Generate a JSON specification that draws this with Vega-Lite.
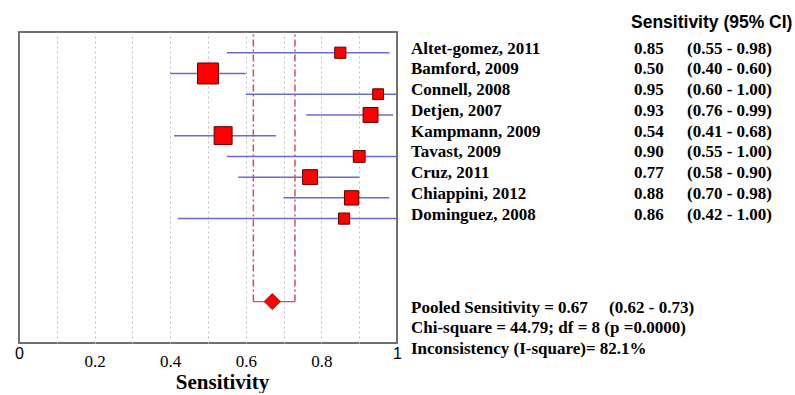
{
  "$schema": "https://vega.github.io/schema/vega-lite/v6.json",
  "background": "white",
  "padding": {"left": 13, "top": 14, "right": 0, "bottom": 0},
  "config": {"view": {"stroke": null}},
  "datasets": {
    "studies": [
      {"row": 0, "study": "Altet-gomez, 2011", "sens": 0.85, "lo": 0.55, "hi": 0.98, "weight": 6.5, "ci": "(0.55 - 0.98)"},
      {"row": 1, "study": "Bamford, 2009", "sens": 0.50, "lo": 0.40, "hi": 0.60, "weight": 22.9, "ci": "(0.40 - 0.60)"},
      {"row": 2, "study": "Connell, 2008", "sens": 0.95, "lo": 0.60, "hi": 1.00, "weight": 6.1, "ci": "(0.60 - 1.00)"},
      {"row": 3, "study": "Detjen, 2007", "sens": 0.93, "lo": 0.76, "hi": 0.99, "weight": 11.6, "ci": "(0.76 - 0.99)"},
      {"row": 4, "study": "Kampmann, 2009", "sens": 0.54, "lo": 0.41, "hi": 0.68, "weight": 16.8, "ci": "(0.41 - 0.68)"},
      {"row": 5, "study": "Tavast, 2009", "sens": 0.90, "lo": 0.55, "hi": 1.00, "weight": 7.3, "ci": "(0.55 - 1.00)"},
      {"row": 6, "study": "Cruz, 2011", "sens": 0.77, "lo": 0.58, "hi": 0.90, "weight": 11.6, "ci": "(0.58 - 0.90)"},
      {"row": 7, "study": "Chiappini, 2012", "sens": 0.88, "lo": 0.70, "hi": 0.98, "weight": 10.7, "ci": "\u00a0(0.70 - 0.98)"},
      {"row": 8, "study": "Dominguez, 2008", "sens": 0.86, "lo": 0.42, "hi": 1.00, "weight": 6.5, "ci": "(0.42 - 1.00)"}
    ],
    "pooled": [{"row": 12, "est": 0.67, "lo": 0.62, "hi": 0.73}],
    "summary": [
      {"row": 12, "label": "Pooled Sensitivity = 0.67\u00a0\u00a0\u00a0\u00a0\u00a0(0.62 - 0.73)"},
      {"row": 13, "label": "Chi-square = 44.79; df = 8 (p =0.0000)"},
      {"row": 14, "label": "Inconsistency (I-square)= 82.1%"}
    ],
    "header": [{"label": "Sensitivity (95% CI)"}]
  },
  "bounds": "flush",
  "spacing": 15,
  "hconcat": [
    {
      "width": 378,
      "height": 311,
      "view": {"stroke": "#707070", "strokeWidth": 2},
      "layer": [
        {
          "data": {"name": "studies"},
          "mark": {"type": "rule", "color": "#6a6ad0", "strokeWidth": 1.5},
          "encoding": {
            "x": {
              "field": "lo", "type": "quantitative", "title": "Sensitivity",
              "scale": {"domain": [0, 1], "nice": false, "zero": false},
              "axis": {
                "values": [0, 0.1, 0.2, 0.3, 0.4, 0.5, 0.6, 0.7, 0.8, 0.9, 1],
                "tickCount": 20,
                "labelExpr": "datum.value == 0 ? '0' : (datum.value > 0.99 ? '1' : (round(datum.value * 10) % 2 == 0 ? format(datum.value, '.1f') : ''))",
                "grid": true,
                "gridColor": "#bdbdbd",
                "gridDash": [2, 3],
                "gridWidth": 1,
                "gridOpacity": {"condition": {"test": "datum.value == 0 || datum.value > 0.99", "value": 0}, "value": 1},
                "ticks": false,
                "tickSize": 0,
                "domain": false,
                "labelFont": {"condition": {"test": "datum.value == 0 || datum.value > 0.99", "value": "Liberation Sans"}, "value": "Liberation Serif"},
                "labelFontSize": {"condition": {"test": "datum.value == 0 || datum.value > 0.99", "value": 16}, "value": 17},
                "labelPadding": {"condition": {"test": "datum.value == 0 || datum.value > 0.99", "value": 2.6}, "value": 10},
                "labelBaseline": "top",
                "labelColor": "black",
                "labelFlush": false,
                "labelOverlap": false,
                "titleFont": "Liberation Serif",
                "titleFontSize": 21,
                "titleFontWeight": "bold",
                "titleColor": "black",
                "titlePadding": 2,
                "titleX": 203
              }
            },
            "x2": {"field": "hi"},
            "y": {"field": "row", "type": "quantitative", "scale": {"domain": [-1, 14], "reverse": true, "nice": false, "zero": false}, "axis": null}
          }
        },
        {
          "data": {"name": "pooled"},
          "mark": {"type": "rule", "color": "#c8506a", "strokeWidth": 1.5, "strokeDash": [7, 3, 2, 3]},
          "encoding": {
            "x": {"field": "lo", "type": "quantitative", "title": "Sensitivity"},
            "y": {"field": "row", "type": "quantitative"},
            "y2": {"datum": -1}
          }
        },
        {
          "data": {"name": "pooled"},
          "mark": {"type": "rule", "color": "#c8506a", "strokeWidth": 1.5, "strokeDash": [7, 3, 2, 3]},
          "encoding": {
            "x": {"field": "hi", "type": "quantitative", "title": "Sensitivity"},
            "y": {"field": "row", "type": "quantitative"},
            "y2": {"datum": -1}
          }
        },
        {
          "data": {"name": "pooled"},
          "mark": {"type": "rule", "color": "#c8506a", "strokeWidth": 1.2},
          "encoding": {
            "x": {"field": "lo", "type": "quantitative", "title": "Sensitivity"},
            "x2": {"field": "hi"},
            "y": {"field": "row", "type": "quantitative"}
          }
        },
        {
          "data": {"name": "studies"},
          "mark": {"type": "square", "filled": true, "color": "#ff0000", "stroke": "#600000", "strokeWidth": 1, "opacity": 1},
          "encoding": {
            "x": {"field": "sens", "type": "quantitative", "title": "Sensitivity"},
            "y": {"field": "row", "type": "quantitative"},
            "size": {"field": "weight", "type": "quantitative", "scale": {"domain": [0, 22.9], "range": [0, 440], "zero": true}, "legend": null}
          }
        },
        {
          "data": {"name": "pooled"},
          "mark": {"type": "point", "shape": "diamond", "filled": true, "color": "#ff0000", "stroke": "#800000", "strokeWidth": 0.8, "size": 260, "opacity": 1},
          "encoding": {
            "x": {"field": "est", "type": "quantitative", "title": "Sensitivity"},
            "y": {"field": "row", "type": "quantitative"}
          }
        }
      ]
    },
    {
      "bounds": "flush",
      "spacing": 0,
      "hconcat": [
        {
          "width": 222,
          "height": 311,
          "layer": [
            {
              "data": {"name": "studies"},
              "mark": {"type": "text", "align": "left", "baseline": "alphabetic", "dx": -1, "dy": 1, "font": "Liberation Serif", "fontSize": 17, "fontWeight": "bold", "color": "black"},
              "encoding": {
                "x": {"value": 0},
                "y": {"field": "row", "type": "quantitative", "scale": {"domain": [-1, 14], "reverse": true, "nice": false, "zero": false}, "axis": null},
                "text": {"field": "study"}
              }
            },
            {
              "data": {"name": "summary"},
              "mark": {"type": "text", "align": "left", "baseline": "alphabetic", "dx": -1, "dy": 11, "font": "Liberation Serif", "fontSize": 17, "fontWeight": "bold", "color": "black"},
              "encoding": {
                "x": {"value": 0},
                "y": {"field": "row", "type": "quantitative"},
                "text": {"field": "label"}
              }
            }
          ]
        },
        {
          "width": 53,
          "height": 311,
          "layer": [
            {
              "data": {"name": "studies"},
              "mark": {"type": "text", "align": "left", "baseline": "alphabetic", "dy": 1, "font": "Liberation Serif", "fontSize": 17, "fontWeight": "bold", "color": "black"},
              "encoding": {
                "x": {"value": 0},
                "y": {"field": "row", "type": "quantitative", "scale": {"domain": [-1, 14], "reverse": true, "nice": false, "zero": false}, "axis": null},
                "text": {"field": "sens", "format": ".2f"}
              }
            },
            {
              "data": {"name": "header"},
              "mark": {"type": "text", "align": "left", "baseline": "alphabetic", "dx": -3, "dy": -4, "font": "Liberation Sans", "fontSize": 17.5, "fontWeight": "bold", "color": "black"},
              "encoding": {
                "x": {"value": 0},
                "y": {"datum": -1, "type": "quantitative"},
                "text": {"field": "label"}
              }
            }
          ]
        },
        {
          "width": 105,
          "height": 311,
          "data": {"name": "studies"},
          "mark": {"type": "text", "align": "left", "baseline": "alphabetic", "dy": 1, "font": "Liberation Serif", "fontSize": 17, "fontWeight": "bold", "color": "black"},
          "encoding": {
            "x": {"value": 0},
            "y": {"field": "row", "type": "quantitative", "scale": {"domain": [-1, 14], "reverse": true, "nice": false, "zero": false}, "axis": null},
            "text": {"field": "ci"}
          }
        }
      ]
    }
  ]
}
